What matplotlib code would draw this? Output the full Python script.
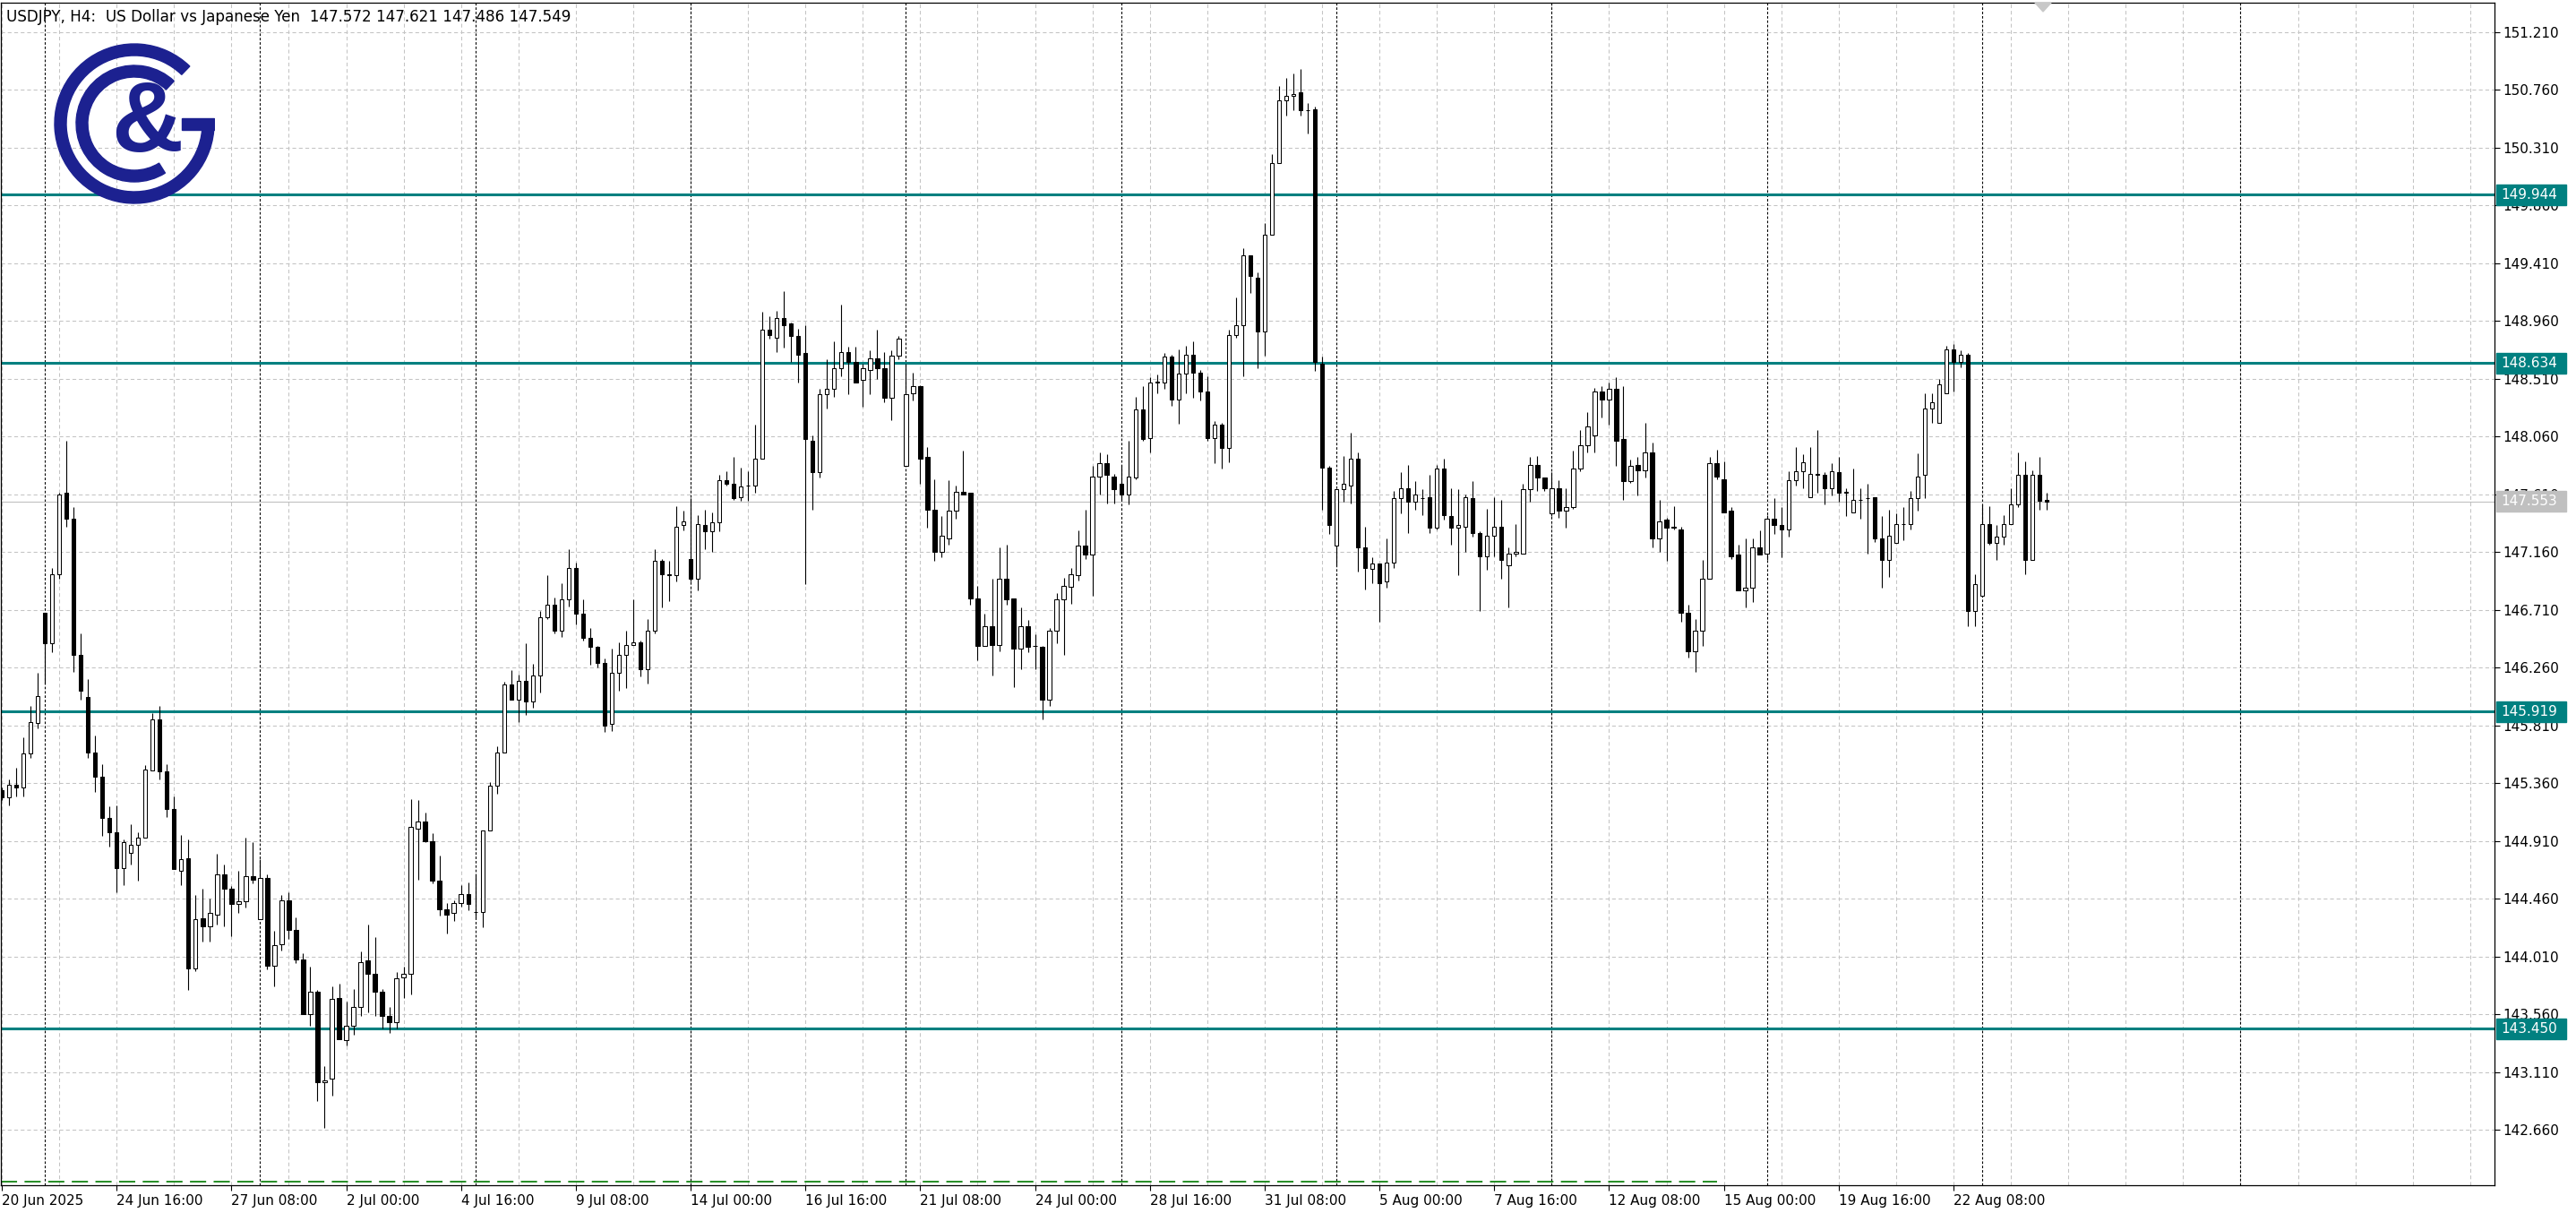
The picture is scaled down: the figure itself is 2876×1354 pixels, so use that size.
import matplotlib
matplotlib.use("Agg")
import matplotlib.pyplot as plt
from matplotlib.patches import Wedge, Rectangle, Polygon
import numpy as np

plt.rcParams['lines.scale_dashes'] = False
plt.rcParams['font.family'] = ['DejaVu Sans']

# USDJPY H4 candles, 20 Jun 2025 00:00 -> 26 Aug 2025 12:00
opens = [
    145.31, 145.25, 145.35, 145.33, 145.59, 145.83, 146.69, 146.45, 146.99, 147.62,
    147.42, 146.36, 146.03, 145.60, 145.41, 145.09, 144.98, 144.70, 144.82, 144.88,
    144.94, 145.46, 145.86, 145.45, 145.16, 144.68, 144.78, 143.92, 144.31, 144.25,
    144.34, 144.65, 144.54, 144.42, 144.44, 144.64, 144.30, 144.62, 143.94, 144.11,
    144.45, 144.22, 143.99, 143.56, 143.74, 143.03, 143.06, 143.69, 143.36, 143.47,
    143.62, 143.98, 143.88, 143.74, 143.55, 143.50, 143.85, 143.88, 145.01, 145.06,
    144.91, 144.60, 144.38, 144.35, 144.43, 144.50, 144.36, 144.36, 144.99, 145.34,
    145.60, 146.13, 146.01, 146.16, 146.00, 146.20, 146.65, 146.75, 146.55, 146.79,
    147.04, 146.68, 146.49, 146.42, 146.30, 145.82, 146.22, 146.36, 146.44, 146.46,
    146.25, 146.55, 147.09, 146.99, 146.98, 147.37, 147.11, 146.95, 147.37, 147.32,
    147.39, 147.72, 147.69, 147.59, 147.68, 147.68, 147.89, 148.89, 148.83, 148.98,
    148.94, 148.84, 148.71, 148.03, 147.78, 148.39, 148.43, 148.59, 148.72, 148.64,
    148.50, 148.58, 148.67, 148.59, 148.36, 148.69, 147.83, 148.40, 148.45, 147.90,
    147.49, 147.16, 147.27, 147.48, 147.63, 147.62, 146.80, 146.43, 146.58, 146.44,
    146.95, 146.80, 146.41, 146.58, 146.43, 146.42, 146.01, 146.55, 146.79, 146.89,
    146.98, 147.21, 147.14, 147.75, 147.85, 147.75, 147.69, 147.61, 147.74, 148.27,
    148.05, 148.48, 148.48, 148.68, 148.35, 148.55, 148.70, 148.56, 148.41, 148.05,
    148.15, 147.97, 148.85, 148.93, 149.47, 149.30, 148.88, 149.63, 150.19, 150.68,
    150.71, 150.74, 150.60, 150.61, 148.63, 147.82, 147.21, 147.65, 147.68, 147.89,
    147.20, 147.03, 147.07, 146.93, 147.08, 147.58, 147.66, 147.55, 147.58, 147.59,
    147.35, 147.81, 147.44, 147.35, 147.36, 147.58, 147.31, 147.13, 147.29, 147.36,
    147.06, 147.15, 147.15, 147.65, 147.84, 147.74, 147.46, 147.66, 147.48, 147.51,
    147.81, 147.99, 148.07, 148.41, 148.35, 148.43, 148.04, 147.71, 147.84, 147.80,
    147.94, 147.27, 147.41, 147.35, 147.34, 146.69, 146.39, 146.55, 146.95, 147.85,
    147.73, 147.48, 147.14, 146.86, 146.88, 147.20, 147.15, 147.42, 147.37, 147.34,
    147.72, 147.79, 147.59, 147.77, 147.76, 147.66, 147.78, 147.62, 147.47, 147.57,
    147.58, 147.59, 147.27, 147.10, 147.23, 147.38, 147.38, 147.58, 147.76, 148.28,
    148.17, 148.40, 148.74, 148.64, 148.70, 146.70, 146.82, 147.38, 147.23, 147.28,
    147.38, 147.53, 147.76, 147.10, 147.76, 147.57,
]
highs = [
    145.33, 145.39, 145.48, 145.72, 145.96, 146.22, 146.69, 147.04, 147.62, 148.03,
    147.51, 146.53, 146.17, 145.73, 145.51, 145.18, 145.19, 144.92, 145.04, 144.98,
    145.50, 145.91, 145.96, 145.51, 145.26, 144.96, 144.92, 144.49, 144.54, 144.46,
    144.81, 144.73, 144.56, 144.68, 144.94, 144.90, 144.77, 144.65, 144.21, 144.49,
    144.51, 144.32, 144.04, 143.93, 143.75, 143.16, 143.78, 143.80, 143.66, 143.76,
    144.05, 144.26, 144.16, 143.76, 143.62, 143.89, 143.93, 145.24, 145.23, 145.13,
    144.97, 144.80, 144.43, 144.45, 144.57, 144.59, 144.65, 144.99, 145.37, 145.65,
    146.15, 146.24, 146.21, 146.45, 146.29, 146.70, 146.98, 146.81, 146.92, 147.18,
    147.08, 146.79, 146.57, 146.43, 146.33, 146.41, 146.46, 146.55, 146.79, 146.47,
    146.64, 147.18, 147.11, 147.09, 147.52, 147.48, 147.58, 147.45, 147.49, 147.47,
    147.76, 147.79, 147.90, 147.82, 147.79, 148.15, 149.03, 149.00, 149.04, 149.19,
    148.95, 148.90, 148.93, 148.07, 148.43, 148.66, 148.80, 149.09, 148.76, 148.76,
    148.63, 148.73, 148.89, 148.72, 148.73, 148.84, 148.63, 148.56, 148.46, 147.98,
    147.73, 147.44, 147.72, 147.68, 147.95, 147.62, 146.90, 146.68, 146.95, 147.20,
    147.22, 146.80, 146.73, 146.63, 146.52, 146.43, 146.57, 146.84, 146.96, 147.04,
    147.33, 147.49, 147.83, 147.94, 147.92, 147.77, 147.84, 148.03, 148.37, 148.45,
    148.52, 148.54, 148.71, 148.70, 148.74, 148.77, 148.80, 148.58, 148.53, 148.18,
    148.17, 148.89, 149.14, 149.53, 149.47, 149.34, 149.72, 150.26, 150.79, 150.85,
    150.89, 150.92, 150.66, 150.63, 148.68, 147.83, 147.65, 147.91, 148.09, 147.94,
    147.36, 147.12, 147.07, 147.27, 147.64, 147.78, 147.84, 147.71, 147.65, 147.76,
    147.84, 147.89, 147.66, 147.65, 147.61, 147.71, 147.32, 147.50, 147.59, 147.57,
    147.20, 147.38, 147.69, 147.90, 147.91, 147.74, 147.78, 147.72, 147.66, 147.95,
    148.11, 148.25, 148.44, 148.45, 148.48, 148.52, 148.45, 147.88, 147.90, 148.17,
    148.01, 147.57, 147.43, 147.52, 147.36, 146.75, 146.64, 147.10, 147.90, 147.96,
    147.87, 147.51, 147.22, 147.27, 147.27, 147.33, 147.45, 147.58, 147.51, 147.79,
    147.98, 147.92, 147.98, 148.11, 147.78, 147.85, 147.90, 147.66, 147.81, 147.66,
    147.69, 147.59, 147.44, 147.49, 147.46, 147.51, 147.64, 147.93, 148.40, 148.40,
    148.51, 148.77, 148.78, 148.73, 148.71, 146.99, 147.53, 147.52, 147.37, 147.45,
    147.66, 147.94, 147.87, 147.80, 147.90, 147.62,
]
lows = [
    145.23, 145.19, 145.26, 145.26, 145.56, 145.79, 146.14, 146.38, 146.95, 147.36,
    146.23, 146.01, 145.56, 145.29, 144.95, 144.87, 144.51, 144.57, 144.73, 144.60,
    144.94, 145.46, 145.39, 145.10, 144.69, 144.57, 143.75, 143.90, 144.13, 144.13,
    144.26, 144.25, 144.17, 144.35, 144.39, 144.58, 144.30, 143.91, 143.78, 144.06,
    144.15, 143.96, 143.56, 143.47, 142.89, 142.68, 142.93, 143.37, 143.32, 143.40,
    143.55, 143.58, 143.55, 143.45, 143.42, 143.45, 143.69, 143.72, 144.61, 144.90,
    144.58, 144.33, 144.19, 144.29, 144.40, 144.37, 144.31, 144.24, 144.99, 145.28,
    145.60, 146.01, 145.84, 145.89, 145.95, 146.07, 146.64, 146.53, 146.50, 146.74,
    146.60, 146.47, 146.28, 146.26, 145.76, 145.77, 146.08, 146.10, 146.44, 146.19,
    146.14, 146.53, 146.73, 146.78, 146.93, 147.33, 146.93, 146.86, 147.18, 147.16,
    147.32, 147.68, 147.57, 147.56, 147.56, 147.62, 147.89, 148.82, 148.72, 148.75,
    148.64, 148.48, 146.91, 147.49, 147.74, 148.28, 148.37, 148.53, 148.39, 148.48,
    148.29, 148.39, 148.51, 148.33, 148.19, 148.66, 147.83, 148.34, 147.69, 147.35,
    147.09, 147.12, 147.22, 147.42, 147.61, 146.75, 146.32, 146.43, 146.20, 146.39,
    146.75, 146.11, 146.25, 146.38, 146.25, 145.86, 145.96, 146.45, 146.36, 146.76,
    146.94, 147.11, 146.82, 147.61, 147.54, 147.54, 147.57, 147.53, 147.73, 148.03,
    147.94, 148.40, 148.43, 148.30, 148.16, 148.40, 148.36, 148.34, 148.03, 147.85,
    147.81, 147.86, 148.83, 148.53, 149.18, 148.59, 148.69, 149.63, 150.19, 150.56,
    150.60, 150.56, 150.42, 148.57, 147.49, 147.30, 147.06, 147.55, 147.54, 147.01,
    146.87, 146.92, 146.62, 146.88, 147.04, 147.46, 147.31, 147.49, 147.45, 147.31,
    147.34, 147.41, 147.22, 146.98, 147.16, 147.28, 146.70, 147.02, 147.13, 146.95,
    146.73, 147.13, 147.15, 147.55, 147.64, 147.64, 147.44, 147.43, 147.35, 147.50,
    147.79, 147.94, 147.94, 148.21, 148.15, 147.83, 147.57, 147.70, 147.60, 147.74,
    147.20, 147.16, 147.09, 147.34, 146.62, 146.34, 146.23, 146.43, 146.95, 147.73,
    147.47, 147.11, 146.86, 146.73, 146.77, 147.14, 147.10, 147.30, 147.12, 147.28,
    147.68, 147.66, 147.59, 147.62, 147.53, 147.60, 147.55, 147.44, 147.47, 147.42,
    147.15, 147.24, 146.88, 146.97, 147.23, 147.25, 147.34, 147.48, 147.58, 148.17,
    148.17, 148.40, 148.41, 148.60, 146.58, 146.58, 146.82, 147.22, 147.10, 147.22,
    147.38, 147.51, 146.99, 147.10, 147.49, 147.49,
]
closes = [
    145.25, 145.35, 145.33, 145.59, 145.84, 146.04, 146.45, 146.99, 147.61, 147.42,
    146.36, 146.08, 145.60, 145.41, 145.09, 144.98, 144.70, 144.90, 144.88, 144.94,
    145.47, 145.86, 145.45, 145.16, 144.69, 144.77, 143.92, 144.30, 144.25, 144.35,
    144.65, 144.54, 144.42, 144.44, 144.64, 144.61, 144.62, 143.94, 144.10, 144.45,
    144.22, 143.99, 143.56, 143.74, 143.03, 143.05, 143.68, 143.37, 143.47, 143.62,
    143.97, 143.88, 143.74, 143.55, 143.50, 143.84, 143.88, 145.02, 145.06, 144.91,
    144.60, 144.38, 144.34, 144.43, 144.50, 144.42, 144.36, 144.99, 145.34, 145.60,
    146.13, 146.01, 146.16, 146.00, 146.20, 146.65, 146.75, 146.55, 146.79, 147.04,
    146.68, 146.49, 146.42, 146.30, 145.81, 146.22, 146.36, 146.44, 146.46, 146.25,
    146.55, 147.09, 146.99, 146.98, 147.36, 147.40, 146.95, 147.38, 147.32, 147.39,
    147.72, 147.69, 147.58, 147.67, 147.68, 147.89, 148.89, 148.85, 148.98, 148.93,
    148.84, 148.70, 148.04, 147.78, 148.39, 148.43, 148.59, 148.72, 148.64, 148.48,
    148.59, 148.67, 148.59, 148.36, 148.69, 148.82, 148.39, 148.45, 147.89, 147.49,
    147.16, 147.29, 147.48, 147.63, 147.61, 146.80, 146.43, 146.58, 146.44, 146.95,
    146.79, 146.41, 146.58, 146.42, 146.43, 146.01, 146.55, 146.79, 146.90, 146.99,
    147.21, 147.14, 147.75, 147.85, 147.76, 147.65, 147.61, 147.75, 148.27, 148.04,
    148.48, 148.49, 148.68, 148.35, 148.55, 148.70, 148.56, 148.41, 148.05, 148.15,
    147.97, 148.85, 148.93, 149.47, 149.31, 148.88, 149.63, 150.19, 150.68, 150.71,
    150.73, 150.60, 150.60, 148.64, 147.82, 147.37, 147.65, 147.69, 147.89, 147.20,
    147.04, 147.07, 146.92, 147.08, 147.58, 147.66, 147.55, 147.61, 147.58, 147.35,
    147.81, 147.45, 147.35, 147.37, 147.59, 147.31, 147.13, 147.29, 147.36, 147.10,
    147.15, 147.16, 147.65, 147.84, 147.74, 147.66, 147.66, 147.48, 147.51, 147.81,
    147.99, 148.14, 148.41, 148.35, 148.43, 148.03, 147.71, 147.83, 147.80, 147.94,
    147.27, 147.40, 147.35, 147.36, 146.69, 146.39, 146.55, 146.95, 147.85, 147.75,
    147.47, 147.13, 146.86, 146.88, 147.20, 147.14, 147.42, 147.37, 147.34, 147.72,
    147.79, 147.86, 147.77, 147.76, 147.66, 147.79, 147.62, 147.63, 147.57, 147.57,
    147.58, 147.27, 147.10, 147.29, 147.38, 147.38, 147.58, 147.75, 148.28, 148.33,
    148.47, 148.74, 148.64, 148.70, 146.70, 146.91, 147.38, 147.23, 147.28, 147.38,
    147.53, 147.76, 147.10, 147.76, 147.56, 147.55,
]

x_labels = ["20 Jun 2025", "24 Jun 16:00", "27 Jun 08:00", "2 Jul 00:00", "4 Jul 16:00",
            "9 Jul 08:00", "14 Jul 00:00", "16 Jul 16:00", "21 Jul 08:00", "24 Jul 00:00",
            "28 Jul 16:00", "31 Jul 08:00", "5 Aug 00:00", "7 Aug 16:00", "12 Aug 08:00",
            "15 Aug 00:00", "19 Aug 16:00", "22 Aug 08:00"]
week_starts = [6, 36, 66, 96, 126, 156, 186, 216, 246, 276, 312]
levels = [149.944, 148.634, 145.919, 143.450]
last_price = 147.553
y_ticks = [142.660 + 0.45 * k for k in range(20)]
header = "USDJPY, H4:  US Dollar vs Japanese Yen  147.572 147.621 147.486 147.549"

W, H = 2876, 1354
teal = '#008080'
navy = '#1c2190'
gridc = '#c4c4c4'

fig = plt.figure(figsize=(W / 100, H / 100), dpi=100)
fig.set_facecolor('white')
ax = fig.add_axes([1 / W, 31 / H, 2784 / W, 1320 / H])
ymin, ymax = 142.231, 151.438
ax.set_xlim(-0.125, 347.4)
ax.set_ylim(ymin, ymax)

# grid
for k in range(0, 348, 8):
    ax.axvline(k, color=gridc, lw=0.75, ls=(0, (3, 2.2)), zorder=1)
for v in y_ticks:
    ax.axhline(v, color=gridc, lw=0.75, ls=(0, (3, 2.2)), zorder=1)
for k in week_starts:
    ax.axvline(k, color='black', lw=0.8, ls=(0, (2, 1.5)), zorder=1.5)

# support / resistance lines and bid line
for v in levels:
    ax.axhline(v, color=teal, lw=2.2, zorder=2)
ax.axhline(last_price, color='#c0c0c0', lw=0.8, zorder=1.8)
ax.plot([-0.125, 239], [142.262, 142.262], color='#007a00', lw=1.2,
        ls=(0, (13, 6)), zorder=2)

# candles
o = np.array(opens); hi = np.array(highs); lo = np.array(lows); c = np.array(closes)
idx = np.arange(len(o))
up = c >= o
ax.vlines(idx, lo, hi, color='black', lw=0.8, zorder=3)
ax.bar(idx, np.abs(c - o), bottom=np.minimum(o, c), width=0.55,
       color=np.where(up, 'white', 'black'), edgecolor='black', linewidth=0.75, zorder=4)

# axes styling
for s in ax.spines.values():
    s.set_color('black')
    s.set_linewidth(0.9)
ax.yaxis.tick_right()
ax.set_yticks(y_ticks)
ax.set_yticklabels([f"{v:.3f}" for v in y_ticks])
ax.tick_params(axis='y', direction='out', length=4, width=0.8, pad=3, labelsize=11, colors='black')
ax.set_xticks(range(0, 16 * len(x_labels), 16))
ax.set_xticklabels(x_labels)
ax.tick_params(axis='x', direction='out', length=4, width=0.8, pad=3, labelsize=11)
for t in ax.get_xticklabels():
    t.set_horizontalalignment('left')


def fy(p):
    return (31 + (p - ymin) / (ymax - ymin) * 1320) / H


# right side price boxes
for v in levels:
    fig.add_artist(Rectangle((2787 / W, fy(v) - 11.5 / H), 78 / W, 23 / H,
                             transform=fig.transFigure, color=teal, zorder=5))
    fig.text(2792 / W, fy(v), f"{v:.3f}", color='white', fontsize=11,
             va='center', ha='left', zorder=6)
fig.add_artist(Rectangle((2787 / W, fy(last_price) - 11.5 / H), 78 / W, 23 / H,
                         transform=fig.transFigure, color='#c0c0c0', zorder=5))
fig.text(2792 / W, fy(last_price), f"{last_price:.3f}", color='white', fontsize=11,
         va='center', ha='left', zorder=6)

# shift marker
fig.add_artist(Polygon([[2272 / W, (H - 3) / H], [2290 / W, (H - 3) / H], [2281 / W, (H - 13) / H]],
                       closed=True, transform=fig.transFigure, color='#c8c8c8', zorder=5))

# header
fig.text(7 / W, (H - 19) / H, header, fontsize=12.1, va='center', ha='left', color='black')

# logo
lax = fig.add_axes([60 / W, (H - 228) / H, 180 / W, 180 / H])
lax.set_xlim(-90, 90)
lax.set_ylim(-90, 90)
lax.set_aspect('equal')
lax.axis('off')
lax.add_patch(Wedge((0, 0), 89, 46, 360, width=13, color=navy))
lax.add_patch(Rectangle((53, -6.5), 36, 13, color=navy))
lax.add_patch(Wedge((0, 0), 65, 47, 302, width=13, color=navy))
lax.text(14, -2, "&", fontsize=80, fontweight='bold', color=navy,
         family='Liberation Sans', ha='center', va='center')

fig.savefig('out.png', dpi=100, facecolor='white')
